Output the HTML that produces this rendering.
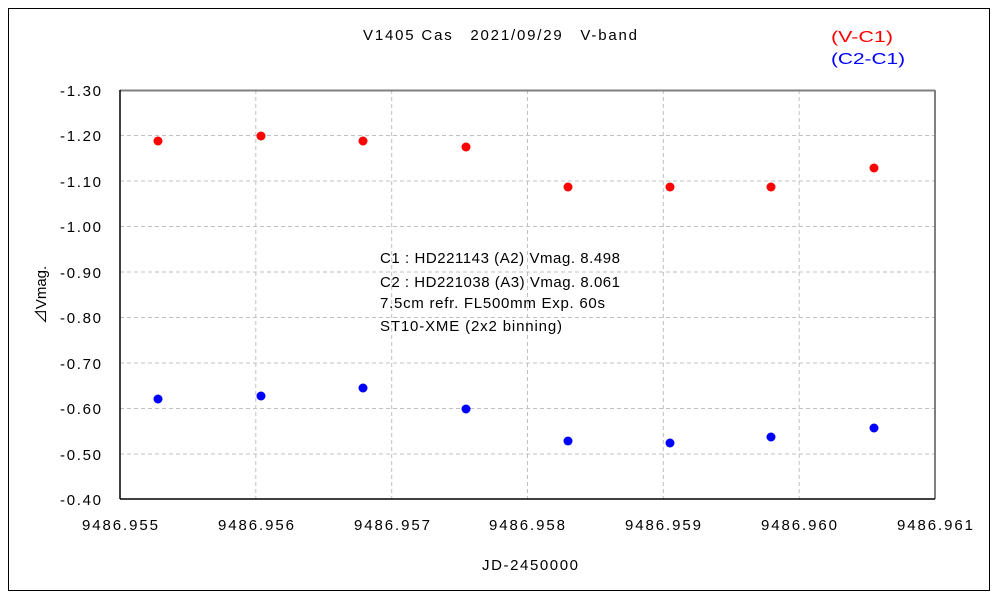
<!DOCTYPE html><html><head><style>body{margin:0;background:#fff}svg text{font-family:"Liberation Sans","Noto Sans CJK JP",sans-serif}</style></head><body>
<svg width="1000" height="600" xmlns="http://www.w3.org/2000/svg">
<rect x="0" y="0" width="1000" height="600" fill="#fff"/>
<rect x="8.5" y="8.5" width="981" height="582" fill="none" stroke="#000" stroke-width="1"/>
<g stroke="#c0c0c0" stroke-dasharray="4,3" stroke-width="1">
<line x1="120" x2="935" y1="135.5" y2="135.5"/><line x1="120" x2="935" y1="181" y2="181"/><line x1="120" x2="935" y1="226.5" y2="226.5"/><line x1="120" x2="935" y1="272" y2="272"/><line x1="120" x2="935" y1="317.5" y2="317.5"/><line x1="120" x2="935" y1="363" y2="363"/><line x1="120" x2="935" y1="408.5" y2="408.5"/><line x1="120" x2="935" y1="454" y2="454"/>
<line y1="90" y2="499" x1="255.8" x2="255.8"/><line y1="90" y2="499" x1="391.7" x2="391.7"/><line y1="90" y2="499" x1="527.5" x2="527.5"/><line y1="90" y2="499" x1="663.3" x2="663.3"/><line y1="90" y2="499" x1="799.2" x2="799.2"/>
</g>
<line x1="120" y1="90.5" x2="935" y2="90.5" stroke="#808080" stroke-width="2"/>
<line x1="935" y1="90" x2="935" y2="499" stroke="#808080" stroke-width="2"/>
<line x1="120" y1="90" x2="120" y2="499" stroke="#000" stroke-width="1.5"/>
<line x1="120" y1="499" x2="935" y2="499" stroke="#000" stroke-width="1.5"/>
<g font-size="15" fill="#000" lengthAdjust="spacingAndGlyphs">
<text x="60" y="96" textLength="41">-1.30</text><text x="60" y="141" textLength="41">-1.20</text><text x="60" y="187" textLength="41">-1.10</text><text x="60" y="232" textLength="41">-1.00</text><text x="60" y="278" textLength="41">-0.90</text><text x="60" y="323" textLength="41">-0.80</text><text x="60" y="369" textLength="41">-0.70</text><text x="60" y="414" textLength="41">-0.60</text><text x="60" y="460" textLength="41">-0.50</text><text x="60" y="505" textLength="41">-0.40</text>
<text x="82" y="530" textLength="76">9486.955</text><text x="218" y="530" textLength="76">9486.956</text><text x="354" y="530" textLength="76">9486.957</text><text x="489" y="530" textLength="76">9486.958</text><text x="625" y="530" textLength="76">9486.959</text><text x="761" y="530" textLength="76">9486.960</text><text x="897" y="530" textLength="76">9486.961</text>
<text x="482" y="570" textLength="96">JD-2450000</text>
<text x="363" y="40" textLength="274">V1405 Cas　2021/09/29　V-band</text>
<text x="380" y="263" textLength="240">C1 : HD221143 (A2) Vmag. 8.498</text>
<text x="380" y="287" textLength="240">C2 : HD221038 (A3) Vmag. 8.061</text>
<text x="380" y="308" textLength="225">7.5cm refr. FL500mm Exp. 60s</text>
<text x="380" y="331" textLength="182">ST10-XME (2x2 binning)</text>
</g>
<text transform="translate(46,295) rotate(-90)" font-size="15" text-anchor="middle">⊿Vmag.</text>
<text x="831" y="42" font-size="16" fill="#f00" textLength="62" lengthAdjust="spacingAndGlyphs">(V-C1)</text>
<text x="831" y="64" font-size="16" fill="#00f" textLength="74" lengthAdjust="spacingAndGlyphs">(C2-C1)</text>
<g fill="#f00">
<circle cx="158" cy="141" r="4.5"/><circle cx="261" cy="136" r="4.5"/><circle cx="363" cy="141" r="4.5"/><circle cx="466" cy="147" r="4.5"/><circle cx="568" cy="187" r="4.5"/><circle cx="670" cy="187" r="4.5"/><circle cx="771" cy="187" r="4.5"/><circle cx="874" cy="168" r="4.5"/>
</g>
<g fill="#00f">
<circle cx="158" cy="399" r="4.5"/><circle cx="261" cy="396" r="4.5"/><circle cx="363" cy="388" r="4.5"/><circle cx="466" cy="409" r="4.5"/><circle cx="568" cy="441" r="4.5"/><circle cx="670" cy="443" r="4.5"/><circle cx="771" cy="437" r="4.5"/><circle cx="874" cy="428" r="4.5"/>
</g>
</svg></body></html>
